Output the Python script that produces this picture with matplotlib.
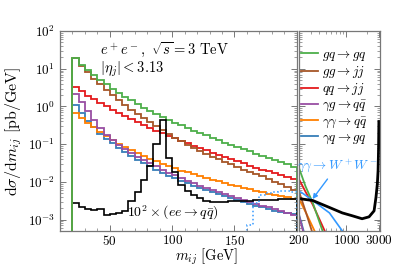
import numpy as np
import matplotlib
matplotlib.use("Agg")
import matplotlib.pyplot as plt
from matplotlib.ticker import FixedLocator, FuncFormatter, NullFormatter

plt.rcParams["mathtext.fontset"] = "cm"
plt.rcParams["font.family"] = "serif"
plt.rcParams["font.serif"] = ["DejaVu Serif"]

# bin edges of the low-mass histograms (GeV)
edges = np.arange(20, 205, 5)

gq_gq = [19, 13, 9.5, 7.0, 5.2, 3.9, 3.0, 2.3, 1.8, 1.45, 1.15, 0.92, 0.75, 0.62, 0.52, 0.44, 0.37, 0.32,
         0.27, 0.23, 0.20, 0.17, 0.15, 0.13, 0.11, 0.097, 0.085, 0.074, 0.064, 0.056, 0.049, 0.043,
         0.037, 0.033, 0.029, 0.025]
gg_jj = [19, 12, 8.0, 5.5, 3.9, 2.8, 2.0, 1.45, 1.1, 0.82, 0.63, 0.49, 0.38, 0.30, 0.24, 0.19, 0.15, 0.12,
         0.097, 0.080, 0.066, 0.055, 0.047, 0.040, 0.034, 0.029, 0.025, 0.021, 0.018, 0.016, 0.014, 0.012,
         0.010, 0.0087, 0.0075, 0.0062]
qq_jj = [3.2, 2.5, 1.95, 1.55, 1.25, 1.0, 0.82, 0.68, 0.56, 0.46, 0.38, 0.32, 0.27, 0.23, 0.195, 0.165,
         0.142, 0.122, 0.105, 0.091, 0.079, 0.069, 0.060, 0.052, 0.046, 0.040, 0.035, 0.031, 0.027, 0.024,
         0.021, 0.019, 0.017, 0.015, 0.0135, 0.012]
ag_qq = [2.2, 1.3, 0.75, 0.44, 0.27, 0.18, 0.13, 0.097, 0.075, 0.059, 0.047, 0.038, 0.031, 0.026, 0.021,
         0.0175, 0.0148, 0.0126, 0.0108, 0.0093, 0.0080, 0.0070, 0.0061, 0.0054, 0.0047, 0.0042, 0.0037,
         0.0033, 0.0029, 0.0026, 0.0023, 0.0021, 0.0019, 0.0017, 0.0015, 0.0013]
aa_qq = [0.68, 0.50, 0.37, 0.28, 0.21, 0.165, 0.13, 0.104, 0.084, 0.069, 0.057, 0.048, 0.041, 0.035, 0.030,
         0.026, 0.023, 0.020, 0.018, 0.016, 0.0142, 0.0127, 0.0114, 0.0103, 0.0093, 0.0084, 0.0076, 0.0069,
         0.0063, 0.0058, 0.0053, 0.0049, 0.0045, 0.0042, 0.0039, 0.0036]
aq_gq = [1.08, 0.66, 0.42, 0.28, 0.19, 0.14, 0.105, 0.080, 0.062, 0.049, 0.039, 0.032, 0.026, 0.021, 0.0175,
         0.0147, 0.0125, 0.0107, 0.0092, 0.0080, 0.0070, 0.0061, 0.0054, 0.0047, 0.0042, 0.0037, 0.0033,
         0.0029, 0.0026, 0.0023, 0.0021, 0.0019, 0.0017, 0.0016, 0.0015, 0.0014]
ee_qq = [0.0028, 0.0022, 0.0019, 0.0018, 0.0019, 0.0013, 0.0014, 0.0015, 0.0017, 0.0032, 0.0055, 0.011,
         0.027, 0.10, 0.43, 0.042, 0.018, 0.0085, 0.0058, 0.0045, 0.0037, 0.0031, 0.0029, 0.0030, 0.0030,
         0.0031, 0.0031, 0.0032, 0.0032, 0.0033, 0.0033, 0.0034, 0.0034, 0.0035, 0.0035, 0.0036]

# gamma gamma -> WW below 200 GeV (dotted)
ww_edges = np.arange(160, 205, 5)
ww_low = [0.0007, 0.0028, 0.0045, 0.0052, 0.0055, 0.0056, 0.0056, 0.0055]

# high-mass side (log axis)
m_gq = [200, 250, 320, 446]
v_gq = [0.024, 0.0077, 0.0028, 0.0005]
m_qq = [200, 250, 320, 480]
v_qq = [0.012, 0.0055, 0.0025, 0.0005]
m_gg = [200, 250, 310]
v_gg = [0.0057, 0.0017, 0.0005]
m_aa = [200, 260, 340]
v_aa = [0.0036, 0.0014, 0.0005]
m_ag = [200, 230]
v_ag = [0.0013, 0.0005]
m_aq = [200, 235]
v_aq = [0.0014, 0.0005]
m_ee = [200, 320, 560, 870, 1200, 1700, 2150, 2550, 2720, 2850, 2920, 2970, 3000]
v_ee = [0.0036, 0.0032, 0.0021, 0.0015, 0.00127, 0.00105, 0.00118, 0.0017, 0.0039, 0.009, 0.02, 0.08, 0.4]
m_ww = [200, 220, 320, 563, 870, 1100]
v_ww = [0.0056, 0.0052, 0.0032, 0.0015, 0.0005, 0.0002]

c_green = "#4daf4a"
c_brown = "#a65628"
c_red = "#e41a1c"
c_purple = "#984ea3"
c_orange = "#ff7f00"
c_blue = "#377eb8"
c_ww = "#3399ff"

fig = plt.figure(figsize=(3.99, 2.66), dpi=100)
ax = fig.add_axes([0.150, 0.132, 0.594, 0.751])
ax2 = fig.add_axes([0.749, 0.132, 0.203, 0.751], sharey=ax)

series = [(aq_gq, c_blue, r"$\gamma q\rightarrow gq$"),
          (aa_qq, c_orange, r"$\gamma\gamma\rightarrow q\bar{q}$"),
          (ag_qq, c_purple, r"$\gamma g\rightarrow q\bar{q}$"),
          (qq_jj, c_red, r"$qq\rightarrow jj$"),
          (gg_jj, c_brown, r"$gg\rightarrow jj$"),
          (gq_gq, c_green, r"$gq\rightarrow gq$")]
handles = {}
for vals, col, lab in series:
    h = ax.stairs(vals, edges, color=col, lw=1.3, label=lab)
    ax.vlines(edges[0], 1e-5, vals[0], color=col, lw=1.3)
    handles[lab] = h

ax.stairs(ee_qq, edges, color="black", lw=1.2)
ax.stairs(ww_low, ww_edges, color=c_ww, lw=1.1, ls=":")

ax2.plot(m_aq, v_aq, color=c_blue, lw=1.3)
ax2.plot(m_ag, v_ag, color=c_purple, lw=1.3)
ax2.plot(m_aa, v_aa, color=c_orange, lw=1.3)
ax2.plot(m_gg, v_gg, color=c_brown, lw=1.3)
ax2.plot(m_qq, v_qq, color=c_red, lw=1.3)
ax2.plot(m_gq, v_gq, color=c_green, lw=1.3)
ax2.plot(m_ww, v_ww, color=c_ww, lw=1.2)
ax2.plot(m_ee, v_ee, color="black", lw=2.0)

ax.set_yscale("log")
ax.set_ylim(5e-4, 1e2)
ax.set_xlim(10, 200)
ax2.set_xscale("log")
ax2.set_xlim(200, 3100)

ax.yaxis.set_major_locator(FixedLocator([1e-3, 1e-2, 1e-1, 1e0, 1e1, 1e2]))
ax.yaxis.set_major_formatter(FuncFormatter(lambda v, p: r"$10^{%d}$" % round(np.log10(v))))
ax.yaxis.set_minor_locator(FixedLocator([k * 10.0 ** e for e in range(-4, 2) for k in range(2, 10)]))
ax.yaxis.set_minor_formatter(NullFormatter())
ax.xaxis.set_major_locator(FixedLocator([50, 100, 150, 200]))
ax.xaxis.set_major_formatter(FuncFormatter(lambda v, p: "" if v == 200 else r"$%d$" % v))
ax.xaxis.set_minor_locator(FixedLocator(np.arange(10, 200, 10)))

ax2.xaxis.set_major_locator(FixedLocator([200, 1000, 3000]))
ax2.xaxis.set_major_formatter(FuncFormatter(lambda v, p: r"$%d$" % v))
ax2.xaxis.set_minor_locator(FixedLocator([300, 400, 500, 600, 700, 800, 900, 2000]))
ax2.xaxis.set_minor_formatter(NullFormatter())
plt.setp(ax2.get_yticklabels(), visible=False)

for a in (ax, ax2):
    a.tick_params(which="both", direction="in", top=True, right=True, color="#777777", labelsize=9.5)
    a.tick_params(axis="x", pad=2)
    a.tick_params(which="major", length=4, width=0.7)
    a.tick_params(which="minor", length=2, width=0.5)
    for s in a.spines.values():
        s.set_color("#777777")
        s.set_linewidth(0.9)

ax.set_ylabel(r"$\mathrm{d}\sigma/\mathrm{d}m_{ij}\ [\mathrm{pb/GeV}]$", fontsize=11.5, labelpad=3)
fig.text(0.518, 0.034, r"$m_{ij}\ [\mathrm{GeV}]$", fontsize=10.5, ha="center", va="center")

ax.text(0.169, 0.905, r"$e^+e^-,\ \sqrt{s}=3\ \mathrm{TeV}$", transform=ax.transAxes, fontsize=10.5, va="center")
ax.text(0.169, 0.81, r"$|\eta_j|<3.13$", transform=ax.transAxes, fontsize=10.5, va="center")
ax.text(0.283, 0.09, r"$10^2\times(ee\rightarrow q\bar{q})$", transform=ax.transAxes, fontsize=10, va="center")

ax2.annotate(r"$\gamma\gamma\rightarrow W^+W^-$", xy=(318, 0.0035), xytext=(740, 0.027),
             textcoords="data", ha="center", va="center", fontsize=9.5, color=c_ww,
             arrowprops=dict(arrowstyle="-|>", color=c_ww, lw=1.0, mutation_scale=7, shrinkA=2, shrinkB=0))

order = [r"$gq\rightarrow gq$", r"$gg\rightarrow jj$", r"$qq\rightarrow jj$",
         r"$\gamma g\rightarrow q\bar{q}$", r"$\gamma\gamma\rightarrow q\bar{q}$", r"$\gamma q\rightarrow gq$"]
ax2.legend([handles[k] for k in order], order, loc="upper left", bbox_to_anchor=(0.03, 0.915),
           frameon=False, fontsize=9.5, handlelength=1.3, handletextpad=0.25, labelspacing=0.08,
           borderaxespad=0, borderpad=0)

fig.savefig("out.png", dpi=100)
